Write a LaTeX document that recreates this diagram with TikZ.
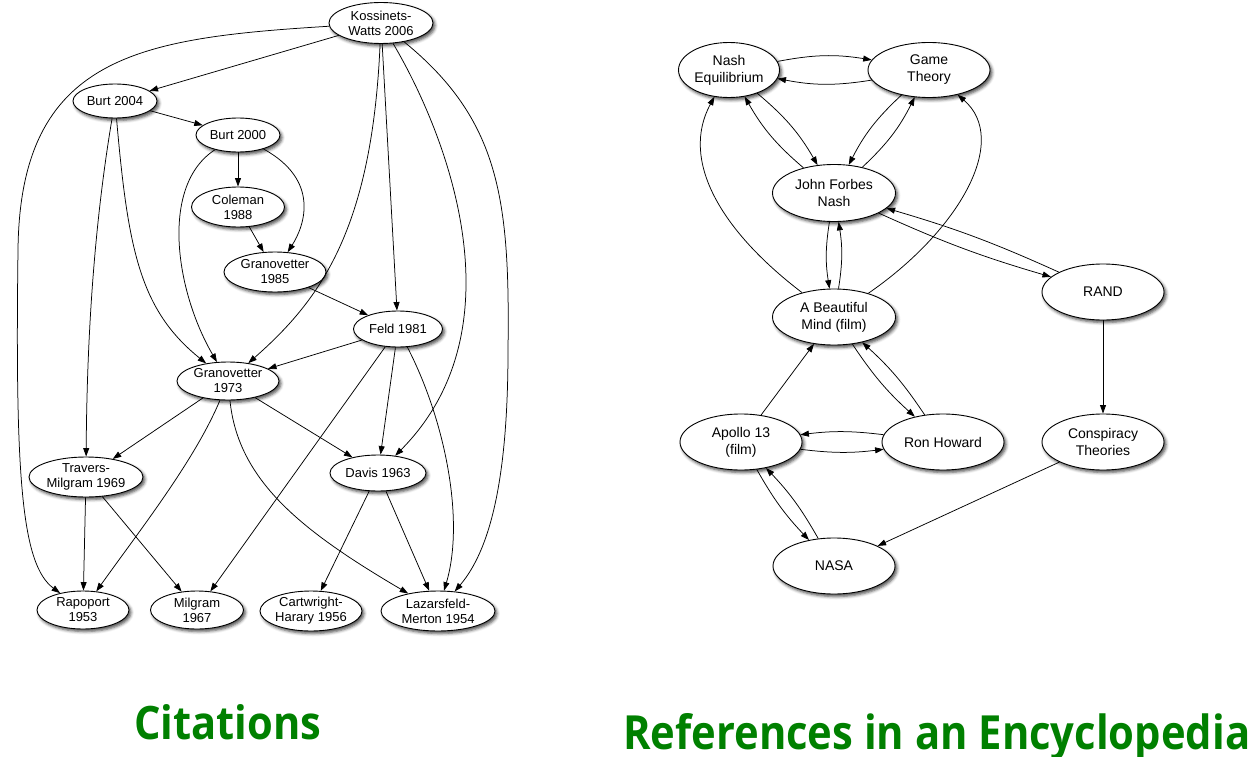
\documentclass[tikz,border=0pt]{standalone}
\usepackage{fontspec}
\setmainfont{Liberation Sans}
\newfontfamily\titlefont{Open Sans}
\usetikzlibrary{shapes.geometric,arrows.meta,shadows.blur}
\definecolor{titlegreen}{RGB}{0,128,0}
\tikzset{
  nd/.style={ellipse, draw=black, fill=white, line width=0.9pt, inner sep=0pt, align=center,
    blur shadow={shadow xshift=2pt, shadow yshift=-2.5pt, shadow blur radius=3pt, shadow opacity=70}},
  lnd/.style={nd, font=\fontsize{13}{15}\selectfont},
  rnd/.style={nd, font=\fontsize{14}{17}\selectfont},
  arr/.style={-{Triangle[length=8.5pt,width=6pt]}, line width=0.75pt},
  ttl/.style={inner sep=0pt, text=titlegreen, font=\titlefont\bfseries}
}
\begin{document}
\begin{tikzpicture}[x=1pt,y=-1pt]
\useasboundingbox (0,0) rectangle (1252,757);
% ---------- Left: citations ----------
\node[lnd, minimum width=104, minimum height=41] (kw) at (381,23) {Kossinets-\\Watts 2006};
\node[lnd, minimum width=84, minimum height=34] (b04) at (115,101) {Burt 2004};
\node[lnd, minimum width=84, minimum height=34] (b00) at (238,135) {Burt 2000};
\node[lnd, minimum width=93, minimum height=40] (col) at (238,207) {Coleman\\1988};
\node[lnd, minimum width=102, minimum height=40] (g85) at (275,272) {Granovetter\\1985};
\node[lnd, minimum width=89, minimum height=36] (feld) at (398,329) {Feld 1981};
\node[lnd, minimum width=102, minimum height=38] (g73) at (228,381) {Granovetter\\1973};
\node[lnd, minimum width=114, minimum height=40] (tm) at (86,477) {Travers-\\Milgram 1969};
\node[lnd, minimum width=96, minimum height=36] (dav) at (378,473) {Davis 1963};
\node[lnd, minimum width=92, minimum height=38] (rap) at (83,610) {Rapoport\\1953};
\node[lnd, minimum width=93, minimum height=38] (mil) at (197,610) {Milgram\\1967};
\node[lnd, minimum width=102, minimum height=40] (cart) at (311,611) {Cartwright-\\Harary 1956};
\node[lnd, minimum width=114, minimum height=40] (laz) at (438,611) {Lazarsfeld-\\Merton 1954};

\draw[arr] (kw) -- (b04);
\draw[arr] (kw) .. controls (140,38) and (20,55) .. (18,250) .. controls (15,480) and (22,565) .. (rap);
\draw[arr] (kw) .. controls (372,230) and (320,300) .. (g73);
\draw[arr] (kw) -- (feld);
\draw[arr] (kw) .. controls (450,140) and (520,330) .. (dav);
\draw[arr] (kw) .. controls (500,120) and (510,200) .. (508,350) .. controls (508,480) and (490,550) .. (laz);
\draw[arr] (b04) -- (b00);
\draw[arr] (b04) .. controls (95,220) and (87,330) .. (tm);
\draw[arr] (b04) .. controls (128,250) and (140,310) .. (g73);
\draw[arr] (b00) -- (col);
\draw[arr] (b00) .. controls (320,180) and (305,225) .. (g85);
\draw[arr] (b00) .. controls (160,185) and (175,290) .. (g73);
\draw[arr] (col) -- (g85);
\draw[arr] (g85) -- (feld);
\draw[arr] (feld) -- (g73);
\draw[arr] (feld) -- (mil);
\draw[arr] (feld) -- (dav);
\draw[arr] (feld) .. controls (445,420) and (465,520) .. (laz);
\draw[arr] (g73) -- (tm);
\draw[arr] (g73) .. controls (195,460) and (140,530) .. (rap);
\draw[arr] (g73) -- (dav);
\draw[arr] (g73) .. controls (238,480) and (300,530) .. (laz);
\draw[arr] (tm) -- (rap);
\draw[arr] (tm) -- (mil);
\draw[arr] (dav) -- (cart);
\draw[arr] (dav) -- (laz);

% ---------- Right: encyclopedia ----------
\node[rnd, minimum width=101, minimum height=55] (ne) at (729,70) {Nash\\Equilibrium};
\node[rnd, minimum width=122, minimum height=55] (gt) at (929,70) {Game\\Theory};
\node[rnd, minimum width=123, minimum height=57] (jfn) at (834,193) {John Forbes\\Nash};
\node[rnd, minimum width=122, minimum height=56] (rand) at (1103,292) {RAND};
\node[rnd, minimum width=123, minimum height=56] (abm) at (834,317) {A Beautiful\\Mind (film)};
\node[rnd, minimum width=122, minimum height=56] (apo) at (741,442) {Apollo 13\\(film)};
\node[rnd, minimum width=122, minimum height=56] (ron) at (943,442) {Ron Howard};
\node[rnd, minimum width=122, minimum height=56] (cons) at (1103,442) {Conspiracy\\Theories};
\node[rnd, minimum width=122, minimum height=56] (nasa) at (834,566) {NASA};

\draw[arr] (ne) to[bend left=10] (gt);
\draw[arr] (gt) to[bend left=10] (ne);
\draw[arr] (ne) to[bend left=10] (jfn);
\draw[arr] (jfn) to[bend left=10] (ne);
\draw[arr] (gt) to[bend right=10] (jfn);
\draw[arr] (jfn) to[bend right=10] (gt);
\draw[arr] (jfn) to[bend right=9] (abm);
\draw[arr] (abm) to[bend right=9] (jfn);
\draw[arr] (jfn) to[bend right=4] (rand);
\draw[arr] (rand) to[bend right=4] (jfn);
\draw[arr] (abm) to[bend right=7] (ron);
\draw[arr] (ron) to[bend right=7] (abm);
\draw[arr] (apo) to[bend right=7] (ron);
\draw[arr] (ron) to[bend right=7] (apo);
\draw[arr] (apo) to[bend right=7] (nasa);
\draw[arr] (nasa) to[bend right=7] (apo);
\draw[arr] (abm) .. controls (720,230) and (680,160) .. (ne);
\draw[arr] (abm) .. controls (960,230) and (1010,140) .. (gt);
\draw[arr] (rand) -- (cons);
\draw[arr] (cons) -- (nasa);
\draw[arr] (apo) -- (abm);

% ---------- Titles ----------
\node[ttl, anchor=base west] (t1) at (134,739) {\resizebox{187pt}{35pt}{Citations}};
\node[ttl, anchor=base west] (t2) at (623,749) {\resizebox{627pt}{36pt}{References in an Encyclopedia}};
\end{tikzpicture}
\end{document}
